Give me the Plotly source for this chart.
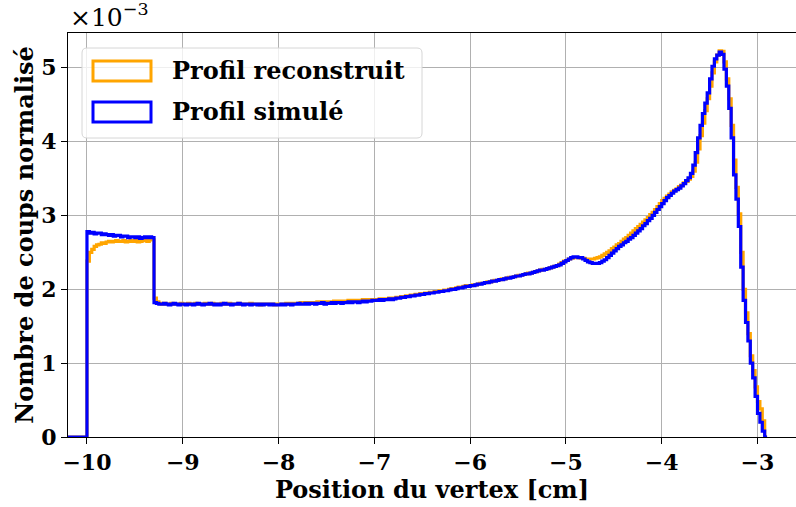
import plotly.graph_objects as go

# Histogram binning (cm)
BIN_START = -10.2
BIN_WIDTH = 0.025

# Normalised counts per bin, in units of 1e-3 (one row = 0.25 cm)
reconstruit = [
    0, 0, 0, 0, 0, 0, 0, 0,
    2.38, 2.50, 2.54, 2.58, 2.60, 2.61, 2.63, 2.62, 2.64, 2.65,
    2.64, 2.65, 2.66, 2.65, 2.65, 2.66, 2.64, 2.65, 2.66, 2.65,
    2.66, 2.64, 2.65, 2.66, 2.66, 2.65, 2.67, 2.67,
    1.88, 1.83, 1.81, 1.80, 1.81, 1.80, 1.80, 1.81, 1.80, 1.80, 1.80, 1.81,
    1.80, 1.80, 1.81, 1.80, 1.80, 1.81, 1.80, 1.80, 1.80, 1.81,
    1.80, 1.80, 1.81, 1.80, 1.80, 1.80, 1.81, 1.80, 1.80, 1.81,
    1.80, 1.80, 1.80, 1.81, 1.80, 1.80, 1.80, 1.80, 1.81, 1.80,
    1.80, 1.80, 1.79, 1.80, 1.80, 1.80, 1.80, 1.80, 1.79, 1.80,
    1.80, 1.80, 1.80, 1.81, 1.80, 1.81, 1.81, 1.81, 1.81, 1.82,
    1.81, 1.82, 1.82, 1.82, 1.82, 1.82, 1.83, 1.82, 1.83, 1.83,
    1.83, 1.83, 1.83, 1.84, 1.83, 1.84, 1.84, 1.84, 1.84, 1.85,
    1.84, 1.85, 1.85, 1.85, 1.85, 1.86, 1.85, 1.86, 1.86, 1.86,
    1.86, 1.86, 1.87, 1.86, 1.87, 1.87, 1.88, 1.87, 1.88, 1.89,
    1.89, 1.90, 1.90, 1.91, 1.91, 1.92, 1.92, 1.93, 1.93, 1.94,
    1.94, 1.95, 1.95, 1.96, 1.96, 1.97, 1.97, 1.98, 1.98, 1.99,
    1.99, 2.00, 2.01, 2.01, 2.02, 2.03, 2.03, 2.04, 2.05, 2.05,
    2.05, 2.06, 2.06, 2.07, 2.08, 2.08, 2.09, 2.10, 2.10, 2.11,
    2.12, 2.12, 2.13, 2.14, 2.14, 2.15, 2.16, 2.16, 2.17, 2.18,
    2.19, 2.19, 2.20, 2.21, 2.22, 2.22, 2.23, 2.24, 2.25, 2.26,
    2.27, 2.27, 2.28, 2.29, 2.30, 2.31, 2.32, 2.34, 2.36, 2.38,
    2.39, 2.41, 2.42, 2.43, 2.43, 2.43, 2.42, 2.42, 2.41, 2.41,
    2.41, 2.41, 2.42, 2.43, 2.44, 2.46, 2.48, 2.50, 2.52, 2.55,
    2.57, 2.60, 2.62, 2.65, 2.68, 2.70, 2.73, 2.76, 2.79, 2.82,
    2.85, 2.88, 2.91, 2.94, 2.97, 3.01, 3.04, 3.08, 3.12, 3.16,
    3.20, 3.23, 3.26, 3.29, 3.32, 3.34, 3.36, 3.39, 3.41, 3.44,
    3.46, 3.49, 3.53, 3.60, 3.72, 3.90, 4.08, 4.25, 4.42, 4.58,
    4.75, 4.93, 5.08, 5.17, 5.23, 5.22, 5.08, 4.85, 4.58, 4.22,
    3.75, 3.38, 3.02, 2.50, 2.00, 1.68, 1.40, 1.10, 0.90, 0.68,
    0.48, 0.38, 0.22, 0,
]

simule = [
    0, 0, 0, 0, 0, 0, 0, 0,
    2.78, 2.76, 2.77, 2.75, 2.76, 2.76, 2.74, 2.75, 2.74, 2.73,
    2.74, 2.72, 2.73, 2.73, 2.71, 2.72, 2.72, 2.70, 2.71, 2.71,
    2.70, 2.71, 2.69, 2.70, 2.71, 2.70, 2.71, 2.70,
    1.82, 1.81, 1.80, 1.80, 1.81, 1.80, 1.79, 1.80, 1.81, 1.80, 1.79, 1.80,
    1.80, 1.79, 1.80, 1.80, 1.79, 1.80, 1.81, 1.80, 1.79, 1.80,
    1.80, 1.81, 1.80, 1.79, 1.80, 1.79, 1.80, 1.81, 1.80, 1.80,
    1.79, 1.80, 1.80, 1.81, 1.80, 1.79, 1.80, 1.80, 1.79, 1.80,
    1.80, 1.79, 1.80, 1.79, 1.80, 1.80, 1.79, 1.80, 1.79, 1.79,
    1.79, 1.80, 1.79, 1.80, 1.80, 1.79, 1.80, 1.80, 1.81, 1.80,
    1.80, 1.81, 1.80, 1.81, 1.81, 1.80, 1.81, 1.81, 1.82, 1.80,
    1.81, 1.81, 1.82, 1.81, 1.82, 1.82, 1.81, 1.82, 1.82, 1.83,
    1.82, 1.83, 1.83, 1.82, 1.83, 1.84, 1.83, 1.84, 1.84, 1.85,
    1.85, 1.85, 1.86, 1.85, 1.86, 1.86, 1.87, 1.86, 1.87, 1.88,
    1.88, 1.89, 1.89, 1.90, 1.90, 1.91, 1.91, 1.92, 1.92, 1.93,
    1.93, 1.94, 1.94, 1.95, 1.95, 1.96, 1.96, 1.97, 1.97, 1.98,
    1.98, 1.99, 2.00, 2.00, 2.01, 2.02, 2.02, 2.03, 2.04, 2.04,
    2.05, 2.05, 2.06, 2.07, 2.07, 2.08, 2.09, 2.09, 2.10, 2.11,
    2.11, 2.12, 2.13, 2.13, 2.14, 2.15, 2.15, 2.16, 2.17, 2.18,
    2.18, 2.19, 2.20, 2.21, 2.21, 2.22, 2.23, 2.24, 2.25, 2.26,
    2.26, 2.27, 2.28, 2.29, 2.30, 2.31, 2.32, 2.33, 2.35, 2.37,
    2.39, 2.41, 2.43, 2.44, 2.44, 2.43, 2.43, 2.41, 2.39, 2.37,
    2.36, 2.35, 2.35, 2.35, 2.36, 2.38, 2.40, 2.43, 2.46, 2.49,
    2.52, 2.55, 2.58, 2.60, 2.63, 2.65, 2.68, 2.70, 2.73, 2.76,
    2.79, 2.82, 2.86, 2.89, 2.93, 2.96, 3.00, 3.04, 3.08, 3.12,
    3.16, 3.20, 3.24, 3.27, 3.30, 3.33, 3.35, 3.37, 3.40, 3.43,
    3.47, 3.51, 3.57, 3.68, 3.85, 4.05, 4.22, 4.38, 4.52, 4.66,
    4.85, 5.02, 5.12, 5.17, 5.21, 5.18, 4.98, 4.75, 4.45, 4.05,
    3.55, 3.22, 2.85, 2.30, 1.85, 1.55, 1.30, 1.00, 0.80, 0.55,
    0.32, 0.20, 0.08, 0,
]

x_ticks = [-10, -9, -8, -7, -6, -5, -4, -3]
x_ticktext = ["−10", "−9", "−8", "−7", "−6", "−5", "−4", "−3"]
y_ticks = [0, 1, 2, 3, 4, 5]
y_ticktext = ["0", "1", "2", "3", "4", "5"]

series_names = ["Profil reconstruit", "Profil simulé"]
series_colors = ["#FFA500", "#0000FF"]

FONT = "DejaVu Serif"
W, H = 796, 507
L, R, T, B = 68, 796, 33, 437  # plot area in pixels


def step_xy(values):
    edges = [BIN_START + BIN_WIDTH * i for i in range(len(values) + 1)]
    return edges, list(values) + [0]


fig = go.Figure()
for vals, name, col in zip([reconstruit, simule], series_names, series_colors):
    xs, ys = step_xy(vals)
    fig.add_trace(go.Scatter(
        x=xs, y=ys, mode="lines", name=name, line_shape="hv",
        line=dict(color=col, width=3.2), showlegend=False,
    ))

tick_font = dict(family=FONT, size=22, color="black", weight="bold")
title_font = dict(family=FONT, size=24, color="black", weight="bold")
fig.update_layout(
    width=W, height=H,
    margin=dict(l=L, r=W - R, t=T, b=H - B),
    paper_bgcolor="white", plot_bgcolor="white",
    xaxis=dict(
        range=[-10.198, -2.598], tickvals=x_ticks, ticktext=x_ticktext,
        tickfont=tick_font, ticks="outside", ticklen=6, tickcolor="black",
        showgrid=True, gridcolor="#b0b0b0", gridwidth=1,
        showline=True, linecolor="black", linewidth=1, mirror=True,
        zeroline=False,
        title=dict(text="Position du vertex [cm]", font=title_font, standoff=4),
    ),
    yaxis=dict(
        range=[0, 5.47], tickvals=y_ticks, ticktext=y_ticktext,
        tickfont=tick_font, ticks="outside", ticklen=6, tickcolor="black",
        showgrid=True, gridcolor="#b0b0b0", gridwidth=1,
        showline=True, linecolor="black", linewidth=1,
        zeroline=False,
        title=dict(text="Nombre de coups normalisé", font=title_font, standoff=0),
    ),
    font=dict(family=FONT, color="black"),
)


def px_x(p):
    return (p - L) / (R - L)


def px_y(p):
    return (B - p) / (B - T)


# Scale factor note above the y axis
fig.add_annotation(
    x=px_x(68), y=px_y(34), xref="paper", yref="paper",
    xanchor="left", yanchor="bottom", showarrow=False,
    text="×10<sup>−3</sup>", font=dict(family=FONT, size=25, color="black"),
)

# Legend box with rounded corners
x0, x1, y0, y1, r = 82, 422, 48, 138, 5
rx, ry = r / (R - L), r / (B - T)
X0, X1, Y0, Y1 = px_x(x0), px_x(x1), px_y(y1), px_y(y0)
path = (f"M {X0 + rx},{Y0} L {X1 - rx},{Y0} Q {X1},{Y0} {X1},{Y0 + ry} "
        f"L {X1},{Y1 - ry} Q {X1},{Y1} {X1 - rx},{Y1} "
        f"L {X0 + rx},{Y1} Q {X0},{Y1} {X0},{Y1 - ry} "
        f"L {X0},{Y0 + ry} Q {X0},{Y0} {X0 + rx},{Y0} Z")
fig.add_shape(type="path", path=path, xref="paper", yref="paper",
              fillcolor="rgba(255,255,255,0.8)",
              line=dict(color="#d6d6d6", width=1), layer="above")

for i, (name, col) in enumerate(zip(series_names, series_colors)):
    top = 61 + 41 * i
    fig.add_shape(type="rect", xref="paper", yref="paper",
                  x0=px_x(93), x1=px_x(151), y0=px_y(top + 20), y1=px_y(top),
                  line=dict(color=col, width=3), fillcolor="rgba(0,0,0,0)",
                  layer="above")
    fig.add_annotation(
        x=px_x(170), y=px_y(top + 10), xref="paper", yref="paper",
        xanchor="left", yanchor="middle", showarrow=False,
        text=name, font=dict(family=FONT, size=24, color="black", weight="bold"),
    )

fig.write_html("out.html")
